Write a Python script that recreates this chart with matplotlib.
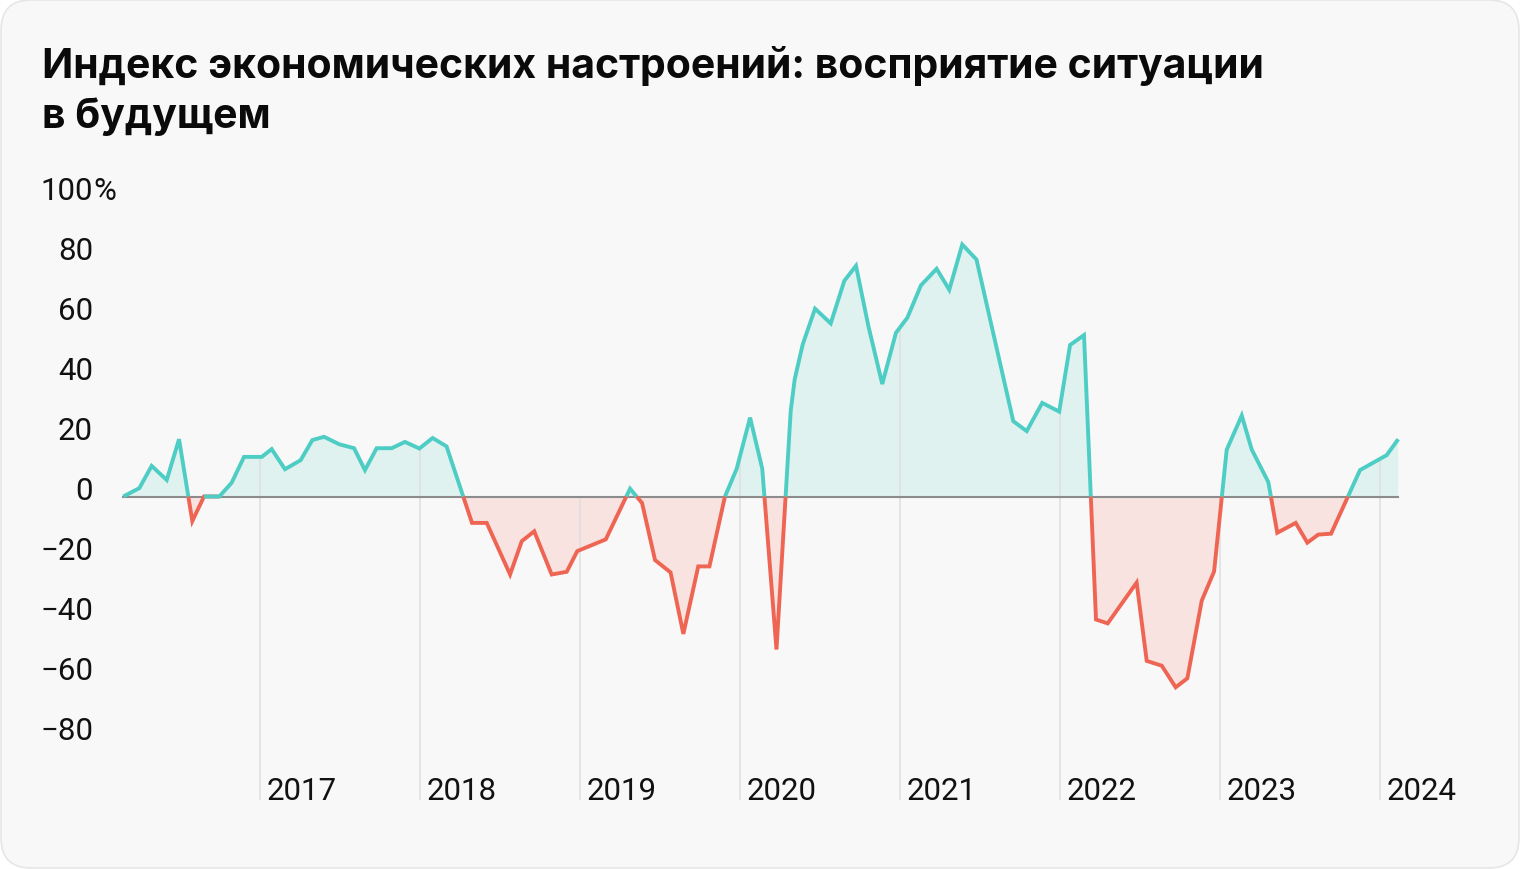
import matplotlib
matplotlib.use("Agg")
import matplotlib.pyplot as plt
from matplotlib.patches import FancyBboxPatch
import numpy as np

# survey dates as decimal years, index value in %
dates = [2016.146, 2016.246, 2016.323, 2016.417, 2016.494, 2016.577, 2016.650, 2016.746,
         2016.823, 2016.900, 2017.011, 2017.073, 2017.156, 2017.254, 2017.327, 2017.400,
         2017.496, 2017.588, 2017.656, 2017.729, 2017.823, 2017.906, 2017.996, 2018.079,
         2018.166, 2018.325, 2018.417, 2018.563, 2018.636, 2018.714, 2018.823, 2018.917,
         2018.983, 2019.161, 2019.313, 2019.388, 2019.469, 2019.566, 2019.646, 2019.739,
         2019.809, 2019.906, 2019.979, 2020.063, 2020.139, 2020.228, 2020.317, 2020.342,
         2020.392, 2020.469, 2020.567, 2020.652, 2020.725, 2020.802, 2020.889, 2020.975,
         2021.046, 2021.131, 2021.229, 2021.308, 2021.389, 2021.478, 2021.708, 2021.792,
         2021.889, 2021.995, 2022.063, 2022.150, 2022.225, 2022.298, 2022.479, 2022.542,
         2022.636, 2022.723, 2022.796, 2022.886, 2022.963, 2023.042, 2023.136, 2023.198,
         2023.302, 2023.358, 2023.473, 2023.546, 2023.614, 2023.694, 2023.875, 2024.042,
         2024.114]
values = [0.0, 2.8, 10.2, 5.5, 19.1, -8.2, 0.0, 0.0,
          4.6, 13.2, 13.2, 15.8, 9.1, 12.1, 18.8, 19.9,
          17.4, 16.1, 8.8, 16.1, 16.1, 18.2, 16.0, 19.5,
          16.7, -8.8, -8.8, -26.0, -14.9, -11.6, -26.0, -25.1,
          -18.2, -14.3, 2.6, -2.2, -21.2, -25.3, -45.8, -23.3,
          -23.3, 0.0, 9.2, 26.3, 9.3, -51.0, 28.6, 39.1,
          50.7, 62.6, 57.7, 71.9, 76.9, 56.9, 37.5, 54.6,
          59.6, 70.4, 75.9, 68.9, 84.0, 79.0, 25.1, 21.8,
          31.2, 28.3, 50.5, 53.8, -41.0, -42.3, -28.7, -54.8,
          -56.4, -63.6, -60.6, -34.7, -25.0, 15.6, 27.0, 15.7,
          4.8, -12.1, -8.8, -15.4, -12.7, -12.4, 8.8, 13.8,
          19.1]
years = [2017, 2018, 2019, 2020, 2021, 2022, 2023, 2024]
y_ticks = [100, 80, 60, 40, 20, 0, -20, -40, -60, -80]

title_lines = ["Индекс экономических настроений: восприятие ситуации",
               "в будущем"]

TEAL = "#4ECDC4"
RED = "#EF6553"
TEAL_FILL = "#DFF2EF"
RED_FILL = "#F8E3E1"

# add zero crossings so line colour / fill switch exactly at 0
t = [dates[0]]
v = [values[0]]
for i in range(1, len(dates)):
    a, b = values[i - 1], values[i]
    if a * b < 0:
        tc = dates[i - 1] + (dates[i] - dates[i - 1]) * a / (a - b)
        t.append(tc)
        v.append(0.0)
    t.append(dates[i])
    v.append(b)
t = np.array(t)
v = np.array(v)

W, H = 1520, 870
fig = plt.figure(figsize=(W / 100, H / 100), dpi=100)
fig.patch.set_facecolor("white")
bg = FancyBboxPatch((0.01, 0.01), W / 100 - 0.02, H / 100 - 0.02,
                    boxstyle="round,pad=0,rounding_size=0.3",
                    transform=fig.dpi_scale_trans, facecolor="#F8F8F8",
                    edgecolor="#E6E6E6", linewidth=1.2, zorder=0)
fig.add_artist(bg)

# axes over whole figure: 160 px per year, 3 px per percent, zero at y=497.5 px
ax = fig.add_axes([0, 0, 1, 1])
ax.patch.set_visible(False)
ax.set_xlim(2017 - 260 / 160, 2017 + (W - 260) / 160)
ax.set_ylim((497.5 - H) / 3, 497.5 / 3)
ax.axis("off")

bottom = -100.8
for yr in years:
    top = max(np.interp(yr, t, v), 0)
    ax.plot([yr, yr], [bottom, top], color="#DEDEDE", lw=1.1, zorder=2)
    ax.text(yr + 7 / 160, -98, str(yr), fontsize=22.5, family="Roboto",
            color="#111111", ha="left", va="center")

ax.fill_between(t, v, 0, where=v >= 0, color=TEAL_FILL, lw=0, zorder=1)
ax.fill_between(t, v, 0, where=v <= 0, color=RED_FILL, lw=0, zorder=1)
ax.plot([t[0], t[-1]], [0, 0], color="#8C8C8C", lw=1.5, zorder=3)

ax.plot(t, np.where(v <= 0, v, np.nan), color=RED, lw=2.8, zorder=4,
        solid_joinstyle="miter", solid_capstyle="butt")
ax.plot(t, np.where(v >= 0, v, np.nan), color=TEAL, lw=2.8, zorder=5,
        solid_joinstyle="miter", solid_capstyle="butt")

x_lab = 2017 + (93 - 260) / 160
for yv in y_ticks:
    lab = str(yv).replace("-", "\u2212")
    ax.text(x_lab, yv + 1.9, lab, fontsize=22.5, family="Roboto",
            color="#111111", ha="right", va="center")
    if yv == 100:
        ax.text(x_lab, yv + 1.9, "%", fontsize=22.5, family="Roboto",
                color="#111111", ha="left", va="center")

for line, base in zip(title_lines, [78, 128]):
    fig.text(42 / W, 1 - base / H, line, fontsize=29.5, fontweight="bold",
             family="Inter", color="#0A0A0A", ha="left", va="baseline")

fig.savefig("out.png", dpi=100, facecolor=fig.get_facecolor())
